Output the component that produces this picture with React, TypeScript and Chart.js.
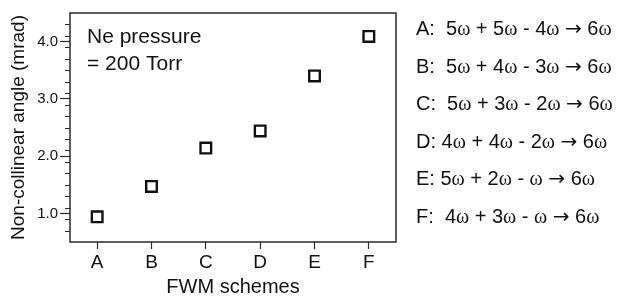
import React, { useEffect, useRef } from "react";
import { Chart, registerables } from "chart.js";

Chart.register(...registerables);

const FONT = "'Liberation Sans', Arial, Helvetica, sans-serif";
const SERIF = "'Liberation Serif', 'Times New Roman', serif";
const ARROW_FONT = "'DejaVu Sans', sans-serif";

const categories = ["A", "B", "C", "D", "E", "F"];
const angles = [0.94, 1.47, 2.14, 2.44, 3.4, 4.09];
const yMajorTicks = [1, 2, 3, 4];
const yMin = 0.5;
const yMax = 4.5;
const yMinorStep = 0.2;
const xTitle = "FWM schemes";
const yTitle = "Non-collinear angle (mrad)";
const noteLines = ["Ne pressure", "= 200 Torr"];
const schemeLines = [
  "A:  5ω + 5ω - 4ω → 6ω",
  "B:  5ω + 4ω - 3ω → 6ω",
  "C:  5ω + 3ω - 2ω → 6ω",
  "D: 4ω + 4ω - 2ω → 6ω",
  "E: 5ω + 2ω - ω → 6ω",
  "F:  4ω + 3ω - ω → 6ω",
];

const AXIS_COLOR = "#2a2a2a";
const TEXT_COLOR = "#111111";

function drawMixed(ctx: CanvasRenderingContext2D, text: string, x: number, y: number, size: number) {
  const parts = text.split(/(ω|→)/);
  let cx = x;
  for (const p of parts) {
    if (!p) continue;
    if (p === "ω") ctx.font = `${size}px ${SERIF}`;
    else if (p === "→") ctx.font = `${size}px ${ARROW_FONT}`;
    else ctx.font = `${size}px ${FONT}`;
    ctx.fillText(p, cx, y);
    cx += ctx.measureText(p).width;
  }
}

const decorPlugin = {
  id: "decor",
  beforeDatasetsDraw(chart: any) {
    const { ctx, chartArea } = chart;
    const ys = chart.scales.y;
    ctx.save();
    ctx.strokeStyle = AXIS_COLOR;
    ctx.lineWidth = 1.5;
    ctx.strokeRect(chartArea.left, chartArea.top, chartArea.right - chartArea.left, chartArea.bottom - chartArea.top);
    ctx.lineWidth = 1;
    const n = Math.round((yMax - yMin) / yMinorStep);
    for (let i = 1; i < n; i++) {
      const v = yMin + i * yMinorStep;
      if (Math.abs(v - Math.round(v)) < 1e-6) continue;
      const py = Math.round(ys.getPixelForValue(v)) + 0.5;
      ctx.beginPath();
      ctx.moveTo(chartArea.left - 5, py);
      ctx.lineTo(chartArea.left, py);
      ctx.stroke();
    }
    ctx.restore();
  },
  afterDraw(chart: any) {
    const { ctx, chartArea } = chart;
    ctx.save();
    ctx.fillStyle = TEXT_COLOR;
    ctx.textBaseline = "alphabetic";
    ctx.textAlign = "left";
    ctx.font = `21px ${FONT}`;
    noteLines.forEach((t, i) => {
      ctx.fillText(t, chartArea.left + 17, chartArea.top + 30 + i * 26.5);
    });
    schemeLines.forEach((t, i) => {
      drawMixed(ctx, t, chartArea.right + 20, chartArea.top + 22 + i * 37.5, 20);
    });
    ctx.restore();
  },
};

export default function App() {
  const ref = useRef<HTMLCanvasElement>(null);
  useEffect(() => {
    if (!ref.current) return;
    const chart = new Chart(ref.current, {
      type: "line",
      data: {
        labels: categories,
        datasets: [
          {
            data: angles,
            showLine: false,
            pointStyle: "rect",
            pointRadius: 7.5,
            pointBorderWidth: 2.4,
            pointBorderColor: "#111",
            pointBackgroundColor: "#fff",
            borderColor: "#111",
            backgroundColor: "#fff",
          },
        ],
      },
      plugins: [decorPlugin],
      options: {
        responsive: false,
        animation: false,
        events: [],
        layout: { padding: { left: 0, top: 13, right: 228, bottom: 0 } },
        plugins: { legend: { display: false }, tooltip: { enabled: false } },
        scales: {
          x: {
            type: "category",
            offset: true,
            grid: {
              display: true,
              drawOnChartArea: false,
              drawTicks: true,
              tickLength: 7,
              tickColor: AXIS_COLOR,
              tickWidth: 1.2,
              offset: false,
            },
            border: { display: false },
            ticks: { color: TEXT_COLOR, font: { family: FONT, size: 19 }, padding: 2, maxRotation: 0 },
            title: {
              display: true,
              text: xTitle,
              color: TEXT_COLOR,
              font: { family: FONT, size: 20, lineHeight: 1 },
              padding: { top: 0, bottom: 0 },
            },
            afterFit: (s: any) => {
              s.height = 55;
            },
          },
          y: {
            min: yMin,
            max: yMax,
            afterBuildTicks: (s: any) => {
              s.ticks = yMajorTicks.map((v) => ({ value: v }));
            },
            grid: {
              display: true,
              drawOnChartArea: false,
              drawTicks: true,
              tickLength: 10,
              tickColor: AXIS_COLOR,
              tickWidth: 1.2,
            },
            border: { display: false },
            ticks: {
              color: TEXT_COLOR,
              font: { family: FONT, size: 15 },
              padding: 2,
              callback: (v: any) => Number(v).toFixed(1),
            },
            title: {
              display: true,
              text: yTitle,
              color: TEXT_COLOR,
              font: { family: FONT, size: 19, lineHeight: 1.2 },
              padding: { top: 7, bottom: 0 },
            },
            afterFit: (s: any) => {
              s.width = 70;
            },
          },
        },
      },
    } as any);
    return () => chart.destroy();
  }, []);
  return (
    <div style={{ position: "fixed", left: 0, top: 0, width: 624, height: 297, background: "#fff" }}>
      <canvas ref={ref} width={624} height={297} style={{ display: "block" }} />
    </div>
  );
}
